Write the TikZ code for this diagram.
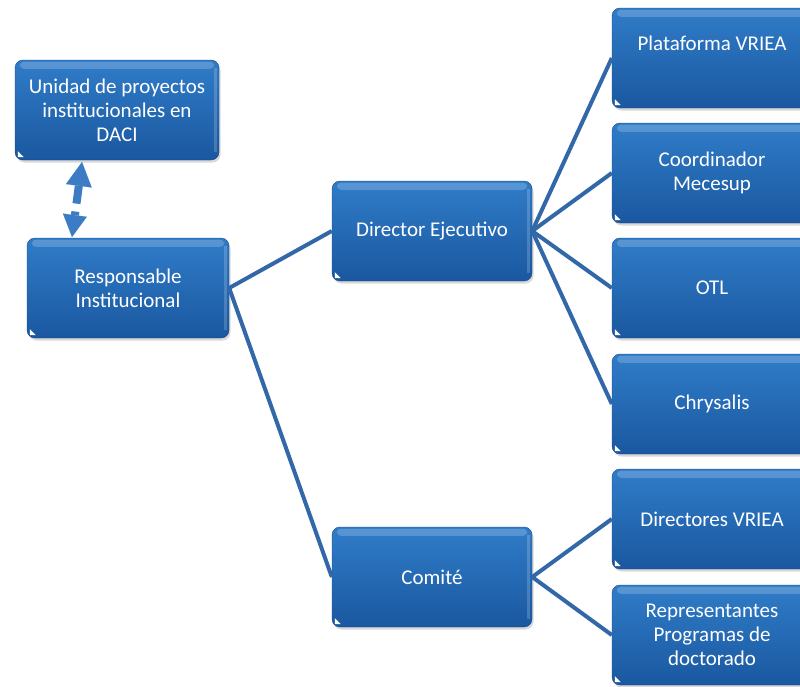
\documentclass[tikz,border=0pt]{standalone}
\usepackage{fontspec}
\setmainfont{Carlito}
\usetikzlibrary{shadows,arrows.meta}
\definecolor{boxtop}{RGB}{48,124,200}
\definecolor{boxbot}{RGB}{26,88,160}
\definecolor{boxedge}{RGB}{22,72,132}
\definecolor{linkc}{RGB}{50,104,168}
\definecolor{arrc}{RGB}{59,124,196}
\begin{document}
\begin{tikzpicture}[x=1pt,y=-1pt,
  box/.style={rectangle, rounded corners=8pt, minimum width=202pt, minimum height=100pt,
    top color=boxtop, bottom color=boxbot, draw=boxedge, line width=0.4pt,
    text=white, align=center, font=\fontsize{21}{24}\selectfont, inner sep=3pt,
    drop shadow={shadow xshift=1.5pt, shadow yshift=-2.5pt, opacity=0.3}},
  link/.style={draw=linkc, line width=4pt},
  dblarrow/.style={arrc, line width=8pt, dash pattern=on 18pt off 8pt,
    {Triangle[length=24pt,width=26pt,line width=0.1pt]}-{Triangle[length=22pt,width=24pt,line width=0.1pt]}}]
\useasboundingbox (0,0) rectangle (800,686);
% left column
\node[box, minimum width=204pt] (unidad) at (117,110) {Unidad de proyectos\\institucionales en\\DACI};
\node[box] (resp) at (128,288) {Responsable\\Institucional};
% middle column
\node[box, minimum width=200pt] (dir) at (432,231) {Director Ejecutivo};
\node[box, minimum width=200pt] (com) at (432,577) {Comité};
% right column
\node[box, minimum width=200pt] (plat) at (712,58) {Plataforma VRIEA\\[6pt]~};
\node[box, minimum width=200pt] (coord) at (712,173) {Coordinador\\Mecesup};
\node[box, minimum width=200pt] (otl) at (712,288) {OTL};
\node[box, minimum width=200pt] (chry) at (712,404) {Chrysalis};
\node[box, minimum width=200pt] (dvriea) at (712,519) {Directores VRIEA};
\node[box, minimum width=200pt] (repr) at (712,635) {Representantes\\Programas de\\doctorado};
% bevel highlights and corner marks
\foreach \n in {unidad,resp,dir,com,plat,coord,otl,chry,dvriea,repr}{
  \fill[white, opacity=0.2, rounded corners=4pt]
    ([xshift=5pt,yshift=-2pt]\n.north west) rectangle ([xshift=-5pt,yshift=-9pt]\n.north east);
  \fill[white, opacity=0.18]
    ([xshift=-5pt,yshift=-8pt]\n.north east) rectangle ([xshift=-2pt,yshift=8pt]\n.south east);
  \fill[white] ([xshift=3pt,yshift=3pt]\n.south west) -- ++(6pt,0pt) -- ++(-6pt,6pt) -- cycle;
}
% connectors
\draw[link] (resp.east) -- (dir.west);
\draw[link] (resp.east) -- (com.west);
\foreach \t in {plat,coord,otl,chry}{\draw[link] (dir.east) -- (\t.west);}
\foreach \t in {dvriea,repr}{\draw[link] (com.east) -- (\t.west);}
% dashed double arrow
\coordinate (ua) at (82,162);
\coordinate (ub) at (72,237);
\draw[dblarrow] (ua) -- (ub);
\end{tikzpicture}
\end{document}
